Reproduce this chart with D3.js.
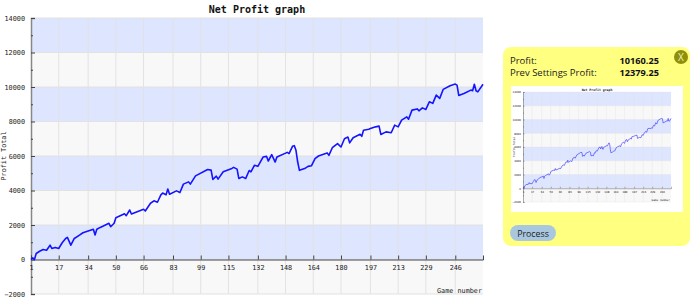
<!DOCTYPE html>
<html>
<head>
<meta charset="utf-8">
<script src="https://cdn.jsdelivr.net/npm/d3@7"></script>
<style>
  html, body { margin: 0; padding: 0; background: #fff; }
  svg { display: block; }
</style>
</head>
<body>
<svg id="page" width="700" height="297"></svg>
<script>
const games = [1, 2, 3, 4, 6, 8, 10, 12, 13, 15, 17, 19, 21, 22, 24, 26, 29, 31, 37, 38, 39, 41, 46, 47, 49, 50,
  55, 56, 58, 59, 66, 67, 70, 72, 74, 76, 77, 79, 80, 81, 85, 87, 89, 92, 93, 96, 103, 105, 106, 108, 109,
  112, 117, 118, 120, 121, 123, 125, 127, 128, 130, 132, 135, 137, 138, 140, 142, 143, 149, 150, 152, 153,
  154, 155, 156, 159, 161, 163, 165, 167, 172, 173, 175, 178, 180, 182, 184, 185, 187, 191, 192, 193, 196,
  197, 200, 202, 203, 206, 209, 211, 213, 215, 218, 219, 221, 224, 225, 227, 229, 231, 233, 235, 237, 239,
  243, 246, 247, 248, 251, 255, 256, 257, 258, 259, 262];
const profit = [0, 100, 0, 350, 480, 580, 540, 830, 640, 700, 640, 970, 1220, 1280, 830, 1220, 1410, 1550, 1750,
  1420, 1750, 1860, 2100, 1900, 2100, 2420, 2650, 2540, 2870, 2640, 2910, 2810, 3260, 3400, 3320, 3750, 3850,
  3750, 4090, 3780, 3980, 3880, 4370, 4500, 4370, 4850, 5220, 5180, 4640, 4830, 4660, 5090, 5280, 5340, 5240,
  4700, 4790, 4700, 5160, 5080, 5460, 5400, 5940, 5980, 5710, 6080, 5650, 5940, 6210, 6140, 6560, 6600, 6330,
  5650, 5170, 5270, 5400, 5440, 5850, 6000, 6180, 6040, 6480, 6720, 6520, 7000, 7100, 6760, 7060, 7260, 7140,
  7490, 7550, 7590, 7690, 7730, 7250, 7400, 7350, 7790, 7690, 8080, 8270, 8130, 8660, 8730, 8620, 8790, 8700,
  9140, 9050, 9530, 9340, 9860, 10070, 10170, 10110, 9510, 9620, 9820, 9780, 10160, 9780, 9720, 10160];
const xTickValues = [1, 17, 34, 50, 66, 83, 99, 115, 132, 148, 164, 180, 197, 213, 229, 246];
const yTickValues = [-2000, 0, 2000, 4000, 6000, 8000, 10000, 12000, 14000];
const yMinorValues = [-1000, 1000, 3000, 5000, 7000, 9000, 11000, 13000];
const title = "Net Profit graph";
const yTitle = "Profit Total";
const xTitle = "Game number";

const mono = "'DejaVu Sans Mono', monospace";

function drawChart(root, o) {
  const x = d3.scaleLinear().domain([1, 262]).range([o.left, o.right]);
  const y = d3.scaleLinear().domain([-2000, 14000]).range([o.bottom, o.top]);

  // alternating bands
  root.append("rect")
    .attr("x", o.left).attr("y", o.top)
    .attr("width", o.right - o.left).attr("height", o.bottom - o.top)
    .attr("fill", "#f8f8f8");
  root.selectAll(".band")
    .data(yTickValues.filter(d => d >= 0 && d < 14000 && d % 4000 === 0))
    .join("rect")
    .attr("class", "band")
    .attr("x", o.left)
    .attr("y", d => y(d + 2000))
    .attr("width", o.right - o.left)
    .attr("height", d => y(d) - y(d + 2000))
    .attr("fill", "#dde5ff");

  // grid
  root.selectAll(".vgrid").data(xTickValues.slice(1)).join("line")
    .attr("class", "vgrid")
    .attr("x1", d => x(d)).attr("x2", d => x(d))
    .attr("y1", o.top).attr("y2", o.bottom)
    .attr("stroke", "#e2e2e2").attr("stroke-width", o.grid);
  root.selectAll(".hgrid").data(yTickValues).join("line")
    .attr("class", "hgrid")
    .attr("x1", o.left).attr("x2", o.right)
    .attr("y1", d => y(d)).attr("y2", d => y(d))
    .attr("stroke", "#e2e2e2").attr("stroke-width", o.grid);

  // y axis, ticks point into the plot
  const yAxis = root.append("g")
    .attr("transform", `translate(${o.left},0)`)
    .call(d3.axisLeft(y).tickValues(yTickValues).tickFormat(d3.format("d")).tickSize(-o.major).tickPadding(o.pad));
  root.append("g")
    .attr("transform", `translate(${o.left},0)`)
    .call(d3.axisLeft(y).tickValues(yMinorValues).tickFormat("").tickSize(-o.minor))
    .call(g => g.select(".domain").remove())
    .selectAll("line").attr("stroke", "#444").attr("stroke-width", o.grid);
  yAxis.select(".domain").attr("stroke", "#888").attr("stroke-width", o.axis);
  yAxis.selectAll("line").attr("stroke", "#444").attr("stroke-width", o.grid);
  yAxis.selectAll("text").attr("font-family", mono).attr("font-size", o.font).attr("fill", "#222");

  // x axis sits on the zero line
  const xAxis = root.append("g")
    .attr("transform", `translate(0,${y(0)})`)
    .call(d3.axisBottom(x).tickValues(xTickValues).tickFormat(d3.format("d")).tickSize(-o.major).tickPadding(o.padX));
  xAxis.select(".domain").attr("stroke", "#444").attr("stroke-width", o.grid);
  xAxis.selectAll("line").attr("stroke", "#444").attr("stroke-width", o.grid);
  xAxis.selectAll("text").attr("font-family", mono).attr("font-size", o.font).attr("fill", "#222");

  // the curve
  const line = d3.line().x((d, i) => x(games[i])).y(d => y(d));
  root.append("path")
    .datum(profit)
    .attr("d", line)
    .attr("fill", "none")
    .attr("stroke", o.lineColor)
    .attr("stroke-width", o.lineWidth)
    .attr("stroke-linejoin", "round");

  // titles
  root.append("text")
    .attr("x", (o.left + o.right) / 2 + o.titleShift).attr("y", o.top - o.titleGap)
    .attr("text-anchor", "middle")
    .attr("font-family", mono).attr("font-weight", "bold").attr("font-size", o.titleFont)
    .attr("fill", "#111").text(title);
  root.append("text")
    .attr("transform", `translate(${o.yTitleX},${(o.top + o.bottom) / 2}) rotate(-90)`)
    .attr("text-anchor", "middle")
    .attr("font-family", mono).attr("font-size", o.font).attr("fill", "#222")
    .text(yTitle);
  root.append("text")
    .attr("x", o.right - 1).attr("y", o.bottom - o.xTitleGap)
    .attr("text-anchor", "end")
    .attr("font-family", mono).attr("font-size", o.font).attr("fill", "#222")
    .text(xTitle);
}

const svg = d3.select("#page");

drawChart(svg.append("g"), {
  left: 31, right: 483, top: 18, bottom: 294,
  major: 4, minor: 2, pad: 6, padX: 6, grid: 1, axis: 1.5,
  font: 6.8, titleFont: 10, titleGap: 5, titleShift: 0, yTitleX: 6, xTitleGap: 1.5,
  lineColor: "#1414ff", lineWidth: 1.6
});

// side panel
const panel = svg.append("g");
panel.append("rect")
  .attr("x", 503).attr("y", 47).attr("width", 187).attr("height", 199).attr("rx", 8)
  .attr("fill", "#ffff80");

const panelFont = "'Open Sans', 'DejaVu Sans', sans-serif";
const panelRows = [["Profit:", "10160.25"], ["Prev Settings Profit:", "12379.25"]];
panelRows.forEach((r, i) => {
  panel.append("text")
    .attr("x", 510).attr("y", 63.5 + i * 12.5)
    .attr("font-family", panelFont).attr("font-size", 9.5).attr("fill", "#222")
    .text(r[0]);
  panel.append("text")
    .attr("x", 659).attr("y", 63.5 + i * 12.5)
    .attr("text-anchor", "end")
    .attr("font-family", panelFont).attr("font-weight", "bold").attr("font-size", 9.2).attr("fill", "#111")
    .text(r[1]);
});

panel.append("circle").attr("cx", 681).attr("cy", 57).attr("r", 7).attr("fill", "#8f8f0a");
panel.append("text")
  .attr("x", 681).attr("y", 60.5).attr("text-anchor", "middle")
  .attr("font-family", panelFont).attr("font-size", 10).attr("fill", "#f0f0c0")
  .text("X");

panel.append("rect")
  .attr("x", 511).attr("y", 86).attr("width", 172).attr("height", 126)
  .attr("fill", "#fff");

drawChart(panel.append("g"), {
  left: 523, right: 671, top: 92, bottom: 202,
  major: 1.5, minor: 1, pad: 2, padX: 2.5, grid: 0.4, axis: 0.7,
  font: 2.8, titleFont: 3.2, titleGap: 1.5, titleShift: 0, yTitleX: 515, xTitleGap: 1,
  lineColor: "#4646ff", lineWidth: 0.7
});

panel.append("rect")
  .attr("x", 510).attr("y", 225).attr("width", 46).attr("height", 16).attr("rx", 8)
  .attr("fill", "#a9c8e0");
panel.append("text")
  .attr("x", 533).attr("y", 236.5).attr("text-anchor", "middle")
  .attr("font-family", panelFont).attr("font-size", 8.8).attr("fill", "#222")
  .text("Process");
</script>
</body>
</html>
